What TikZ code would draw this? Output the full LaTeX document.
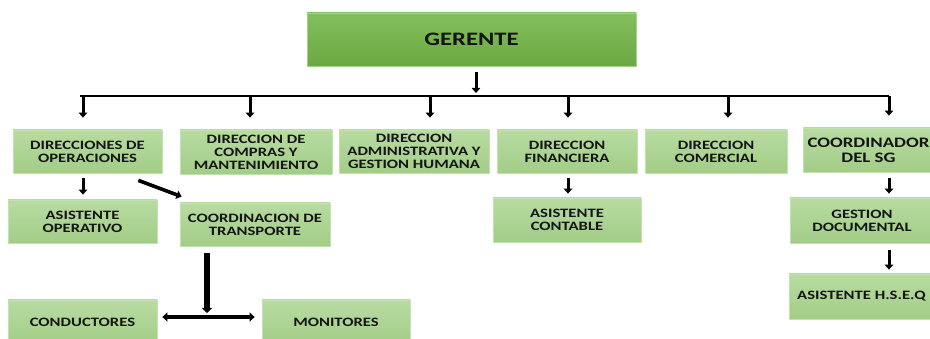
\documentclass[tikz,border=0pt]{standalone}
\usepackage{fontspec}
\usetikzlibrary{arrows.meta,calc}
\newfontfamily\orgfont[FakeStretch=1.3]{Carlito}
\newcommand{\BusY}{96}
\newcommand{\RowOneY}{151.5}
\newcommand{\BoxH}{43}
\definecolor{boxTop}{HTML}{B8DBA2}
\definecolor{boxBot}{HTML}{A2CD86}
\definecolor{boxStroke}{HTML}{C4E1B1}
\definecolor{gerTop}{HTML}{84BF5E}
\definecolor{gerBot}{HTML}{6AA942}
\definecolor{gerStroke}{HTML}{A8D08D}
\definecolor{boxText}{HTML}{141414}

\begin{document}
\begin{tikzpicture}[
  x=1pt, y=-1pt,
  orgbox/.style  = {draw=boxStroke, line width=0.8pt, top color=boxTop,
                    bottom color=boxBot, text=boxText, align=center,
                    inner sep=0pt, minimum height=\BoxH,
                    font=\orgfont\bfseries\fontsize{12.8}{13}\selectfont},
  topbox/.style  = {draw=gerStroke, line width=0.8pt, top color=gerTop,
                    bottom color=gerBot, text=boxText, inner sep=0pt,
                    font=\orgfont\bfseries\fontsize{19}{20}\selectfont},
  bigtxt/.style  = {font=\orgfont\bfseries\fontsize{14.5}{15}\selectfont},
  arr/.style     = {line width=3pt, -{Triangle[length=5pt,width=8.5pt]}},
  busline/.style = {line width=1.9pt},
  bigarr/.style  = {line width=5.5pt, -{Triangle[length=5pt,width=10pt]}},
  dblarr/.style  = {line width=3.4pt,
                    {Triangle[length=5pt,width=9pt]}-{Triangle[length=5pt,width=9pt]}},
]
\useasboundingbox (0,0) rectangle (930,339);
\fill[white] (0,0) rectangle (930,339);
\clip (0,0) rectangle (930,339);

% ----------------------------------------------------------------
% Top
% ----------------------------------------------------------------
\node[topbox, minimum width=329, minimum height=53] (ger) at (471.5,39.5) {GERENTE};

% ----------------------------------------------------------------
% Directions (first row)
% ----------------------------------------------------------------
\node[orgbox, minimum width=149] (ops)   at (87.5,\RowOneY) {DIRECCIONES DE\\OPERACIONES};
\node[orgbox, minimum width=152, minimum height=44] (com) at (256,152) {DIRECCION DE\\COMPRAS Y\\MANTENIMIENTO};
\node[orgbox, minimum width=150] (adm)   at (414,\RowOneY) {DIRECCION\\ADMINISTRATIVA Y\\GESTION HUMANA};
\node[orgbox, minimum width=140] (fin)   at (567,\RowOneY) {DIRECCION\\FINANCIERA};
\node[orgbox, minimum width=142] (comer) at (716,\RowOneY) {DIRECCION\\COMERCIAL};
\node[orgbox, bigtxt, minimum width=131, minimum height=44] (csg) at (868.5,150) {COORDINADOR\\DEL SG};

% ----------------------------------------------------------------
% Second and third rows
% ----------------------------------------------------------------
\node[orgbox, minimum width=149] (asop)  at (82.5,221.5) {ASISTENTE\\OPERATIVO};
\node[orgbox, minimum width=150] (ctra)  at (255,224.5) {COORDINACION DE\\TRANSPORTE};
\node[orgbox, minimum width=148, minimum height=44] (ascon) at (567,220) {ASISTENTE\\CONTABLE};
\node[orgbox, minimum width=144, minimum height=45] (gdoc)  at (862,220.5) {GESTION\\DOCUMENTAL};
\node[orgbox, minimum width=145, minimum height=45] (hseq)  at (861.5,296.5) {ASISTENTE H.S.E.Q};
\node[orgbox, minimum width=149, minimum height=45] (cond)  at (82.5,322.5) {CONDUCTORES};
\node[orgbox, minimum width=148, minimum height=45] (moni)  at (336,322.5) {MONITORES};

% ----------------------------------------------------------------
% Bus from the manager
% ----------------------------------------------------------------
\coordinate (gb) at (476,\BusY);
\draw[arr, shorten <=6pt, shorten >=3pt] (gb |- ger.south) -- (gb);

\foreach \xx/\tgt [count=\i] in {83/ops, 250/com, 430/adm, 568/fin, 728/comer, 889/csg}{
  \coordinate (d\i) at (\xx,\BusY);
  \draw[arr, shorten >=12pt] (d\i) -- (d\i |- \tgt.north);
}
\draw[busline, shorten <=-3pt] (d1) -- (d6);

% ----------------------------------------------------------------
% Lower links
% ----------------------------------------------------------------
\draw[arr, shorten <=5pt, shorten >=5pt] (d1 |- ops.south) -- (d1 |- asop.north);
\draw[arr, line width=3.6pt] ([xshift=-24pt, yshift=-7pt]ops.south east) -- ([xshift=2pt, yshift=6pt]ctra.north west);
\draw[arr, shorten <=5pt, shorten >=4pt] (d4 |- fin.south) -- (d4 |- ascon.north);
\draw[arr, shorten <=6pt, shorten >=4pt] (d6 |- csg.south) -- (d6 |- gdoc.north);
\draw[arr, shorten <=7pt, shorten >=4pt] (d6 |- gdoc.south) -- (d6 |- hseq.north);

\coordinate (tj) at (207,317);
\draw[bigarr, shorten <=7pt, shorten >=4pt] (tj |- ctra.south) -- (tj);
\draw[dblarr, shorten <=5pt, shorten >=7pt] (cond.east |- tj) -- (moni.west |- tj);

\end{tikzpicture}
\end{document}
